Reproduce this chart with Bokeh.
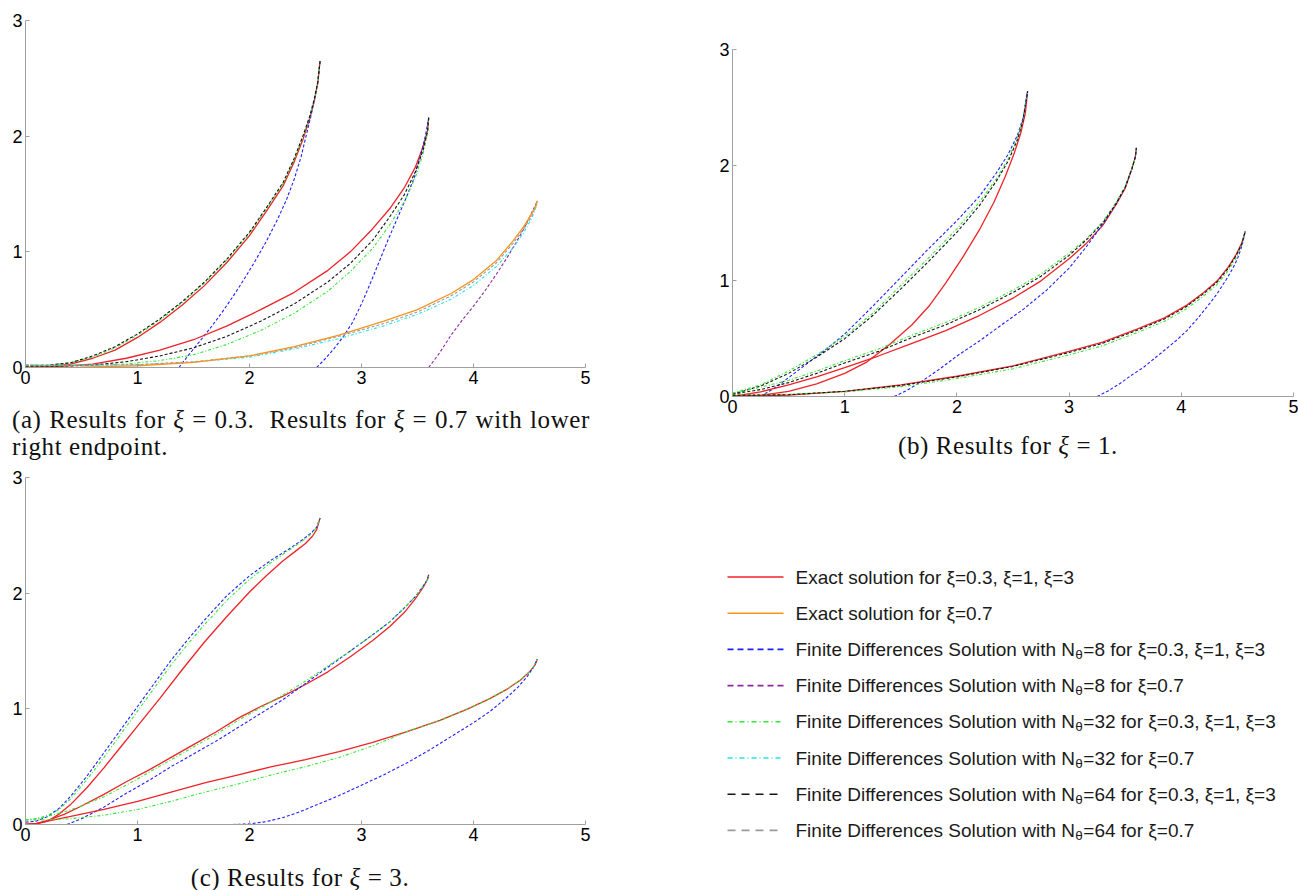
from bokeh.plotting import figure
from bokeh.models import Range1d, Div, FixedTicker
from bokeh.layouts import row, column
from bokeh.embed import file_html
from bokeh.resources import INLINE
from bokeh.core.properties import value

# ---------------- data ----------------
X_TICKS = [0, 1, 2, 3, 4, 5]
Y_TICKS = [0, 1, 2, 3]

# Panel (a): xi = 0.3 (two curves) and xi = 0.7 (lower right endpoint)
A1_X = [0, 0.2, 0.4, 0.6, 0.8, 1.0, 1.2, 1.4, 1.6, 1.8, 2.0, 2.15, 2.3, 2.4, 2.48, 2.54, 2.58, 2.61, 2.63]
A1_EXACT = [0, 0.005, 0.03, 0.08, 0.15, 0.26, 0.39, 0.54, 0.71, 0.91, 1.14, 1.35, 1.57, 1.78, 1.98, 2.16, 2.31, 2.46, 2.65]
A1_N64 = [0.02, 0.02, 0.04, 0.1, 0.18, 0.29, 0.42, 0.57, 0.74, 0.94, 1.17, 1.38, 1.6, 1.81, 2.01, 2.18, 2.33, 2.47, 2.65]
A1_N32 = [0.02, 0.02, 0.04, 0.09, 0.17, 0.28, 0.41, 0.56, 0.73, 0.93, 1.16, 1.37, 1.59, 1.8, 2.0, 2.17, 2.32, 2.47, 2.65]
A1_N8_X = [1.37, 1.45, 1.55, 1.65, 1.75, 1.85, 1.95, 2.05, 2.15, 2.25, 2.33, 2.4, 2.46, 2.51, 2.55, 2.58, 2.61, 2.63]
A1_N8 = [0, 0.1, 0.22, 0.34, 0.47, 0.61, 0.76, 0.92, 1.09, 1.28, 1.45, 1.63, 1.82, 2.02, 2.18, 2.32, 2.47, 2.65]

A2_X = [0, 0.3, 0.6, 0.9, 1.2, 1.5, 1.8, 2.1, 2.4, 2.7, 2.9, 3.1, 3.25, 3.38, 3.48, 3.55, 3.59, 3.6]
A2_EXACT = [0, 0.01, 0.03, 0.08, 0.15, 0.24, 0.36, 0.5, 0.65, 0.84, 1.0, 1.2, 1.37, 1.55, 1.73, 1.91, 2.05, 2.16]
A2_N64 = [0.01, 0.01, 0.02, 0.05, 0.1, 0.17, 0.27, 0.4, 0.55, 0.74, 0.9, 1.1, 1.3, 1.49, 1.69, 1.88, 2.04, 2.16]
A2_N32 = [0.02, 0.02, 0.02, 0.03, 0.06, 0.11, 0.2, 0.32, 0.47, 0.66, 0.83, 1.03, 1.23, 1.43, 1.64, 1.85, 2.03, 2.16]
A2_N8_X = [2.6, 2.68, 2.76, 2.84, 2.92, 3.0, 3.08, 3.16, 3.24, 3.32, 3.4, 3.47, 3.53, 3.57, 3.6]
A2_N8 = [0, 0.08, 0.17, 0.27, 0.39, 0.55, 0.73, 0.92, 1.11, 1.29, 1.47, 1.64, 1.84, 2.0, 2.16]

A3_X = [0, 0.5, 1.0, 1.5, 2.0, 2.4, 2.8, 3.2, 3.5, 3.8, 4.0, 4.2, 4.35, 4.45, 4.52, 4.56, 4.57]
A3_EXACT = [0, 0.003, 0.015, 0.045, 0.1, 0.18, 0.28, 0.4, 0.5, 0.64, 0.76, 0.92, 1.09, 1.22, 1.33, 1.41, 1.44]
A3_N64 = [0.02, 0.02, 0.025, 0.05, 0.1, 0.17, 0.27, 0.38, 0.48, 0.62, 0.74, 0.9, 1.07, 1.2, 1.31, 1.4, 1.44]
A3_N32 = [0.02, 0.02, 0.025, 0.045, 0.09, 0.16, 0.25, 0.36, 0.46, 0.59, 0.71, 0.87, 1.03, 1.17, 1.29, 1.39, 1.44]
A3_N8_X = [3.6, 3.7, 3.8, 3.9, 4.0, 4.1, 4.2, 4.3, 4.38, 4.45, 4.5, 4.54, 4.57]
A3_N8 = [0, 0.13, 0.28, 0.41, 0.53, 0.66, 0.8, 0.95, 1.08, 1.2, 1.3, 1.38, 1.44]

# Panel (b): xi = 1
B1_EXACT_X = [0, 0.25, 0.5, 0.75, 1.0, 1.2, 1.4, 1.6, 1.75, 1.9, 2.05, 2.2, 2.33, 2.43, 2.51, 2.57, 2.61, 2.63]
B1_EXACT = [0, 0.01, 0.045, 0.11, 0.2, 0.3, 0.45, 0.62, 0.78, 0.98, 1.2, 1.44, 1.68, 1.9, 2.1, 2.28, 2.45, 2.64]
B1_FD_X = [0, 0.25, 0.5, 0.75, 1.0, 1.25, 1.5, 1.75, 2.0, 2.2, 2.35, 2.46, 2.54, 2.59, 2.63]
B1_N32 = [0.03, 0.1, 0.22, 0.36, 0.52, 0.72, 0.96, 1.2, 1.45, 1.68, 1.88, 2.06, 2.24, 2.4, 2.64]
B1_N64 = [0.02, 0.09, 0.2, 0.34, 0.5, 0.7, 0.93, 1.17, 1.42, 1.65, 1.86, 2.04, 2.22, 2.39, 2.64]
B1_N8_X = [0.25, 0.4, 0.55, 0.7, 0.85, 1.0, 1.25, 1.5, 1.75, 2.0, 2.2, 2.35, 2.46, 2.54, 2.59, 2.63]
B1_N8 = [0, 0.09, 0.2, 0.31, 0.42, 0.54, 0.78, 1.03, 1.28, 1.52, 1.73, 1.93, 2.1, 2.26, 2.41, 2.64]

B2_X = [0, 0.25, 0.5, 0.75, 1.0, 1.3, 1.6, 1.9, 2.2, 2.5, 2.75, 3.0, 3.15, 3.3, 3.42, 3.5, 3.56, 3.59, 3.6]
B2_EXACT = [0, 0.04, 0.1, 0.17, 0.25, 0.35, 0.46, 0.57, 0.7, 0.85, 1.0, 1.19, 1.32, 1.48, 1.66, 1.8, 1.97, 2.07, 2.15]
B2_N32 = [0.03, 0.08, 0.14, 0.22, 0.31, 0.41, 0.53, 0.64, 0.77, 0.92, 1.06, 1.24, 1.36, 1.51, 1.68, 1.82, 1.97, 2.07, 2.15]
B2_N64 = [0.02, 0.06, 0.12, 0.2, 0.29, 0.39, 0.51, 0.62, 0.75, 0.9, 1.04, 1.22, 1.35, 1.5, 1.67, 1.81, 1.97, 2.07, 2.15]
B2_N8_X = [1.44, 1.55, 1.7, 1.85, 2.0, 2.2, 2.4, 2.6, 2.8, 3.0, 3.15, 3.3, 3.42, 3.5, 3.56, 3.59, 3.6]
B2_N8 = [0, 0.05, 0.14, 0.24, 0.35, 0.48, 0.62, 0.76, 0.92, 1.11, 1.29, 1.49, 1.67, 1.81, 1.97, 2.07, 2.15]

B3_X = [0, 0.5, 1.0, 1.5, 2.0, 2.5, 3.0, 3.3, 3.6, 3.85, 4.05, 4.2, 4.32, 4.42, 4.49, 4.54, 4.57]
B3_EXACT = [0, 0.012, 0.045, 0.1, 0.175, 0.265, 0.39, 0.47, 0.58, 0.68, 0.79, 0.9, 1.0, 1.12, 1.23, 1.33, 1.43]
B3_N32 = [0.02, 0.02, 0.04, 0.085, 0.155, 0.24, 0.36, 0.44, 0.55, 0.65, 0.76, 0.87, 0.97, 1.09, 1.2, 1.31, 1.43]
B3_N64 = [0.01, 0.015, 0.045, 0.095, 0.17, 0.26, 0.38, 0.46, 0.57, 0.67, 0.78, 0.89, 0.99, 1.11, 1.22, 1.32, 1.43]
B3_N8_X = [3.25, 3.35, 3.45, 3.55, 3.66, 3.8, 3.95, 4.05, 4.15, 4.25, 4.32, 4.4, 4.46, 4.5, 4.54, 4.57]
B3_N8 = [0, 0.05, 0.11, 0.18, 0.25, 0.36, 0.48, 0.57, 0.68, 0.8, 0.89, 1.01, 1.11, 1.19, 1.3, 1.43]

# Panel (c): xi = 3
C1_EXACT_X = [0, 0.1, 0.2, 0.3, 0.4, 0.55, 0.7, 0.85, 1.0, 1.2, 1.4, 1.6, 1.8, 2.0, 2.15, 2.3, 2.42, 2.5, 2.56, 2.6, 2.63]
C1_EXACT = [0, 0.005, 0.03, 0.09, 0.17, 0.32, 0.49, 0.67, 0.85, 1.09, 1.34, 1.58, 1.8, 2.01, 2.15, 2.28, 2.37, 2.43, 2.49, 2.55, 2.65]
C1_FD_X = [0, 0.1, 0.2, 0.3, 0.4, 0.55, 0.7, 0.85, 1.0, 1.15, 1.3, 1.45, 1.6, 1.8, 2.0, 2.2, 2.35, 2.47, 2.55, 2.6, 2.63]
C1_N8 = [0.02, 0.03, 0.07, 0.14, 0.24, 0.42, 0.62, 0.82, 1.02, 1.22, 1.42, 1.6, 1.77, 1.98, 2.15, 2.29, 2.38, 2.46, 2.52, 2.57, 2.65]
C1_N32 = [0.04, 0.05, 0.08, 0.13, 0.22, 0.39, 0.58, 0.78, 0.98, 1.18, 1.38, 1.56, 1.73, 1.94, 2.12, 2.27, 2.37, 2.45, 2.51, 2.57, 2.65]

C2_X = [0, 0.1, 0.2, 0.35, 0.5, 0.7, 0.9, 1.1, 1.3, 1.5, 1.7, 1.9, 2.1, 2.3, 2.5, 2.7, 2.9, 3.1, 3.25, 3.38, 3.48, 3.55, 3.59, 3.6]
C2_EXACT = [0, 0.01, 0.035, 0.09, 0.16, 0.26, 0.37, 0.47, 0.58, 0.69, 0.8, 0.92, 1.02, 1.11, 1.21, 1.32, 1.45, 1.59, 1.71, 1.83, 1.95, 2.05, 2.12, 2.16]
C2_N32 = [0.04, 0.05, 0.07, 0.11, 0.16, 0.24, 0.34, 0.45, 0.56, 0.67, 0.78, 0.9, 1.01, 1.12, 1.24, 1.37, 1.5, 1.64, 1.75, 1.87, 1.97, 2.06, 2.12, 2.16]
C2_N8_X = [0.37, 0.5, 0.7, 0.9, 1.1, 1.3, 1.5, 1.7, 1.9, 2.1, 2.3, 2.5, 2.7, 2.9, 3.1, 3.25, 3.38, 3.48, 3.55, 3.59, 3.6]
C2_N8 = [0, 0.05, 0.15, 0.27, 0.38, 0.5, 0.61, 0.72, 0.84, 0.96, 1.08, 1.22, 1.36, 1.5, 1.64, 1.75, 1.87, 1.97, 2.06, 2.12, 2.16]

C3_EXACT_X = [0, 0.1, 0.2, 0.35, 0.5, 0.7, 1.0, 1.3, 1.6, 1.9, 2.2, 2.5, 2.8, 3.1, 3.4, 3.7, 3.95, 4.15, 4.3, 4.42, 4.5, 4.55, 4.57]
C3_EXACT = [0, 0.01, 0.03, 0.06, 0.09, 0.13, 0.2, 0.28, 0.36, 0.43, 0.5, 0.56, 0.63, 0.71, 0.8, 0.9, 1.0, 1.09, 1.17, 1.25, 1.32, 1.38, 1.43]
C3_N32_X = [0, 0.2, 0.4, 0.7, 1.0, 1.3, 1.6, 1.9, 2.2, 2.5, 2.8, 3.1, 3.4, 3.7, 3.95, 4.15, 4.3, 4.42, 4.5, 4.55, 4.57]
C3_N32 = [0.04, 0.04, 0.05, 0.08, 0.13, 0.2, 0.28, 0.35, 0.43, 0.5, 0.58, 0.68, 0.8, 0.9, 1.0, 1.09, 1.17, 1.25, 1.32, 1.38, 1.43]
C3_N8_X = [1.85, 2.0, 2.15, 2.3, 2.45, 2.6, 2.8, 3.0, 3.2, 3.4, 3.6, 3.8, 4.0, 4.15, 4.3, 4.4, 4.48, 4.53, 4.57]
C3_N8 = [0, 0.005, 0.025, 0.06, 0.11, 0.17, 0.25, 0.34, 0.43, 0.53, 0.64, 0.76, 0.88, 0.98, 1.1, 1.19, 1.28, 1.35, 1.43]

EXACT_LABELS = ["Exact solution for \u03be=0.3, \u03be=1, \u03be=3", "Exact solution for \u03be=0.7"]
FD_PREFIX = "Finite Differences Solution with N"
FD_SUB = "\u03b8"
FD_SUFFIXES = ["=8 for \u03be=0.3, \u03be=1, \u03be=3", "=8 for \u03be=0.7",
               "=32 for \u03be=0.3, \u03be=1, \u03be=3", "=32 for \u03be=0.7",
               "=64 for \u03be=0.3, \u03be=1, \u03be=3", "=64 for \u03be=0.7"]

# ---------------- styles ----------------
RED = "#ee2328"
ORANGE = "#f7931e"
BLUE = "#1f1fff"
PURPLE = "#8b2a9e"
GREEN = "#33e833"
CYAN = "#1fe6e6"
BLACK = "#151515"
GREY = "#9a9a9a"
AXIS = "#a0a0a0"

PLOT_DASH = {"exact": "solid", "n8": "3 2", "n32": "3 2 1 2", "n64": "3 2"}
PLOT_W = {"exact": 1.3, "n8": 1.1, "n32": 1.1, "n64": 1.1}
LEG_DASH = {"exact": "solid", "n8": "6 4", "n32": "5 3 1 3", "n64": "8 6"}

TICK_FONT = "Liberation Sans"


def panel(curves, left, right, top, bottom, fw):
    p = figure(frame_width=fw, frame_height=347, x_range=Range1d(0, 5), y_range=Range1d(0, 3),
               output_backend="svg", toolbar_location=None,
               min_border_left=left, min_border_right=right,
               min_border_top=top, min_border_bottom=bottom)
    p.grid.visible = False
    p.outline_line_color = None
    p.background_fill_color = "white"
    p.border_fill_color = "white"
    p.xaxis.ticker = FixedTicker(ticks=X_TICKS)
    p.yaxis.ticker = FixedTicker(ticks=Y_TICKS)
    for ax in (p.xaxis[0], p.yaxis[0]):
        ax.axis_line_color = AXIS
        ax.axis_line_width = 1
        ax.major_tick_line_color = AXIS
        ax.major_tick_in = 4
        ax.major_tick_out = 0
        ax.minor_tick_line_color = None
        ax.major_label_text_font = TICK_FONT
        ax.major_label_text_font_size = "18px"
        ax.major_label_text_color = "black"
        ax.major_label_standoff = 3
    for xs, ys, color, kind in curves:
        p.line(xs, ys, line_color=color, line_dash=PLOT_DASH[kind], line_width=PLOT_W[kind])
    return p


curves_a = [
    (A1_X, A1_EXACT, RED, "exact"), (A1_N8_X, A1_N8, BLUE, "n8"),
    (A1_X, A1_N32, GREEN, "n32"), (A1_X, A1_N64, BLACK, "n64"),
    (A2_X, A2_EXACT, RED, "exact"), (A2_N8_X, A2_N8, BLUE, "n8"),
    (A2_X, A2_N32, GREEN, "n32"), (A2_X, A2_N64, BLACK, "n64"),
    (A3_N8_X, A3_N8, PURPLE, "n8"), (A3_X, A3_N32, CYAN, "n32"),
    (A3_X, A3_N64, GREY, "n64"), (A3_X, A3_EXACT, ORANGE, "exact"),
]
curves_b = [
    (B1_EXACT_X, B1_EXACT, RED, "exact"), (B1_N8_X, B1_N8, BLUE, "n8"),
    (B1_FD_X, B1_N32, GREEN, "n32"), (B1_FD_X, B1_N64, BLACK, "n64"),
    (B2_X, B2_EXACT, RED, "exact"), (B2_N8_X, B2_N8, BLUE, "n8"),
    (B2_X, B2_N32, GREEN, "n32"), (B2_X, B2_N64, BLACK, "n64"),
    (B3_X, B3_EXACT, RED, "exact"), (B3_N8_X, B3_N8, BLUE, "n8"),
    (B3_X, B3_N32, GREEN, "n32"), (B3_X, B3_N64, BLACK, "n64"),
]
curves_c = [
    (C1_EXACT_X, C1_EXACT, RED, "exact"), (C1_FD_X, C1_N8, BLUE, "n8"),
    (C1_FD_X, C1_N32, GREEN, "n32"),
    (C2_X, C2_EXACT, RED, "exact"), (C2_N8_X, C2_N8, BLUE, "n8"),
    (C2_X, C2_N32, GREEN, "n32"),
    (C3_EXACT_X, C3_EXACT, RED, "exact"), (C3_N8_X, C3_N8, BLUE, "n8"),
    (C3_N32_X, C3_N32, GREEN, "n32"),
]

fig_a = panel(curves_a, left=25, right=65, top=20, bottom=39, fw=560)
fig_b = panel(curves_b, left=82, right=5, top=49, bottom=36, fw=561)
fig_c = panel(curves_c, left=25, right=65, top=17, bottom=40, fw=560)

# ---------------- legend (own figure, pixel-like coordinates) ----------------
LW, LH = 648, 430
leg = figure(frame_width=LW, frame_height=LH, x_range=Range1d(0, LW), y_range=Range1d(LH, 0),
             x_axis_type=None, y_axis_type=None, output_backend="svg", toolbar_location=None,
             min_border=0)
leg.grid.visible = False
leg.outline_line_color = None
leg.border_fill_color = "white"

ARIAL_W = {"F": 611, "i": 222, "n": 556, "t": 278, "e": 556, " ": 278, "D": 722, "f": 278,
           "r": 333, "c": 500, "s": 500, "S": 667, "o": 556, "l": 222, "u": 556, "w": 722,
           "h": 556, "N": 722, "\u03b8": 556}


def tw(s, size):
    return sum(ARIAL_W.get(ch, 556) for ch in s) * size / 1000.0


LEG_FS = 19
SUB_FS = 13.5
row_y0, row_dy = 116.5, 36.2
x_line0, x_line1, x_text = 77, 133, 145
entries = [
    (RED, "exact"), (ORANGE, "exact"), (BLUE, "n8"), (PURPLE, "n8"),
    (GREEN, "n32"), (CYAN, "n32"), (BLACK, "n64"), (GREY, "n64"),
]
for i, (color, kind) in enumerate(entries):
    yy = row_y0 + row_dy * i
    leg.segment(x0=[x_line0], y0=[yy], x1=[x_line1], y1=[yy], line_color=color,
                line_dash=LEG_DASH[kind], line_width=1.6)

ys_exact = [row_y0 + row_dy * i for i in range(2)]
leg.text(x=[x_text] * 2, y=ys_exact, text=EXACT_LABELS, text_font=value(TICK_FONT),
         text_font_size=f"{LEG_FS}px", text_baseline="middle", text_align="left", text_color="#1a1a1a")
ys_fd = [row_y0 + row_dy * i for i in range(2, 8)]
leg.text(x=[x_text] * 6, y=ys_fd, text=[FD_PREFIX] * 6, text_font=value(TICK_FONT),
         text_font_size=f"{LEG_FS}px", text_baseline="middle", text_align="left", text_color="#1a1a1a")
x_sub = x_text + tw(FD_PREFIX, LEG_FS)
leg.text(x=[x_sub] * 6, y=[v + 5 for v in ys_fd], text=[FD_SUB] * 6, text_font=value(TICK_FONT),
         text_font_size=f"{SUB_FS}px", text_baseline="middle", text_align="left", text_color="#1a1a1a")
x_suf = x_sub + tw(FD_SUB, SUB_FS) + 0.5
leg.text(x=[x_suf] * 6, y=ys_fd, text=FD_SUFFIXES, text_font=value(TICK_FONT),
         text_font_size=f"{LEG_FS}px", text_baseline="middle", text_align="left", text_color="#1a1a1a")

# ---------------- captions ----------------
CAP = "font-family:'Liberation Serif';font-size:25px;letter-spacing:0.6px;color:#111;"
div_a = Div(text=(f'<div style="{CAP}line-height:27px;width:578px;margin-left:12px;">'
                  '<div style="text-align:justify;text-align-last:justify;white-space:nowrap;">(a) Results for <i>\u03be</i> = 0.3.&nbsp; Results for <i>\u03be</i> = 0.7 with lower</div>'
                  '<div>right endpoint.</div></div>'),
            width=650, height=54, margin=0)
div_b = Div(text=f'<div style="{CAP}line-height:28px;width:580px;margin-left:68px;text-align:center;">(b) Results for <i>\u03be</i> = 1.</div>',
            width=648, height=28, margin=0)
div_c = Div(text=f'<div style="{CAP}line-height:27px;width:600px;text-align:center;">(c) Results for <i>\u03be</i> = 3.</div>',
            width=650, height=26, margin=0)

layout = column(
    row(column(fig_a, div_a, spacing=0), column(fig_b, div_b, spacing=0), spacing=0),
    row(column(fig_c, div_c, spacing=0), leg, spacing=0),
    spacing=0,
)

open("out.html", "w").write(file_html(layout, INLINE, title="FD vs exact"))
